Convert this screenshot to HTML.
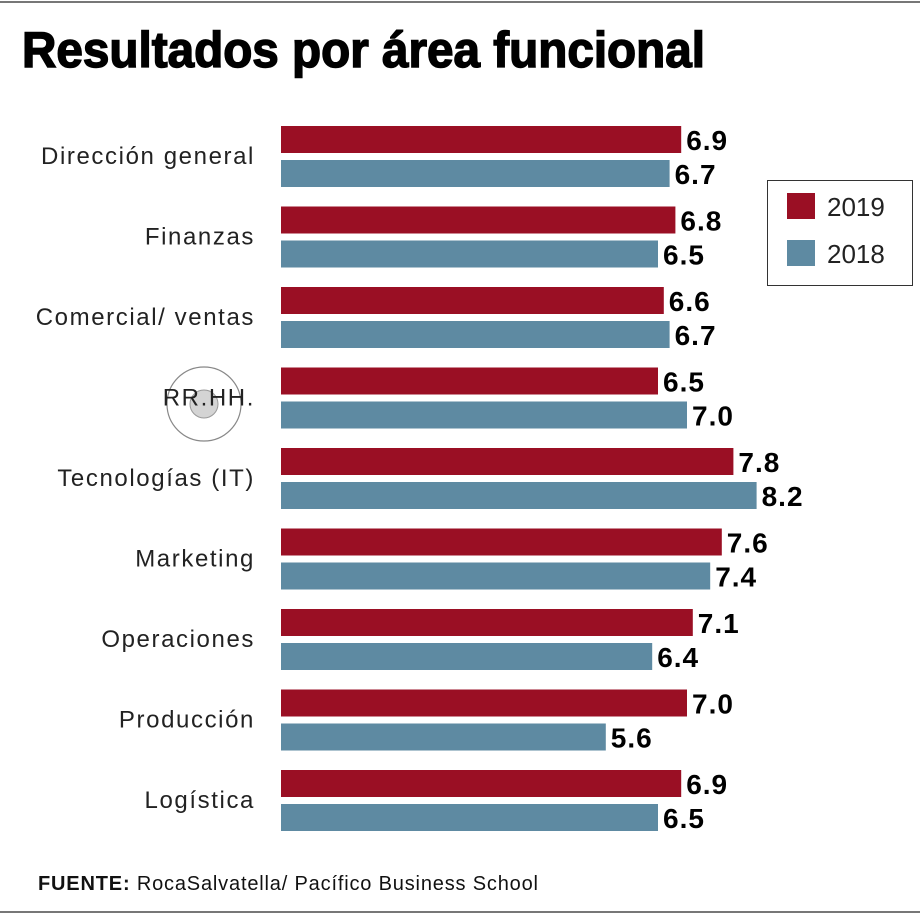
<!DOCTYPE html>
<html><head><meta charset="utf-8"><style>
body{margin:0;background:#fff}
svg{display:block;font-family:"Liberation Sans",sans-serif}
</style></head><body>
<svg id="c" width="920" height="917" viewBox="0 0 920 917">
<line x1="0" y1="2" x2="920" y2="2" stroke="#777" stroke-width="2"/>
<text x="22" y="67" font-size="50" font-weight="bold" textLength="683" lengthAdjust="spacingAndGlyphs" fill="#000" stroke="#000" stroke-width="1.5">Resultados por área funcional</text>
<g>
<circle cx="204" cy="404" r="37" fill="none" stroke="#888" stroke-width="1.2"/>
<circle cx="204" cy="404" r="14" fill="#d4d4d4" stroke="#999"/>
</g>
<g id="bars"></g>
<g>
<rect x="767.5" y="180.5" width="145" height="105" fill="#fff" stroke="#333"/>
<rect x="787" y="193" width="28" height="26" fill="#9a0f24"/>
<text x="827" y="216" font-size="26" fill="#222">2019</text>
<rect x="787" y="240" width="28" height="26" fill="#5e8aa2"/>
<text x="827" y="263" font-size="26" fill="#222">2018</text>
</g>
<text x="38" y="890" font-size="20" fill="#111" textLength="500"><tspan font-weight="bold">FUENTE:</tspan> RocaSalvatella/ Pacífico Business School</text>
<line x1="0" y1="912" x2="920" y2="912" stroke="#777" stroke-width="2"/>
</svg>
<script>
const categories=["Dirección general","Finanzas","Comercial/ ventas","RR.HH.","Tecnologías (IT)","Marketing","Operaciones","Producción","Logística"];
const values2019=[6.9,6.8,6.6,6.5,7.8,7.6,7.1,7.0,6.9];
const values2018=[6.7,6.5,6.7,7.0,8.2,7.4,6.4,5.6,6.5];
const NS="http://www.w3.org/2000/svg";
const g=document.getElementById('bars');
const x0=281,k=58;
function xs(v){return x0+v*k;}
function ys(i){return 126+i*80.5;}
function mk(t,a){const e=document.createElementNS(NS,t);for(const n in a)e.setAttribute(n,a[n]);g.appendChild(e);return e;}
categories.forEach((c,i)=>{
  const y=ys(i);
  const lb=mk('text',{x:255,y:y+38,'text-anchor':'end','font-size':24,'letter-spacing':1.6,fill:'#222'});
  lb.textContent=c;
  
  
  [[values2019[i],'#9a0f24',0,'bar-2019'],[values2018[i],'#5e8aa2',34,'bar-2018']].forEach(([v,col,off,nm])=>{
    const r=mk('rect',{x:x0,y:y+off,width:xs(v)-x0,height:27,fill:col});
    
    
    const t=mk('text',{x:xs(v)+5,y:y+off+24,'font-size':28,'font-weight':'bold','letter-spacing':1,fill:'#000'});
    t.textContent=v.toFixed(1);
    
    
  });
});
</script>
</body></html>
